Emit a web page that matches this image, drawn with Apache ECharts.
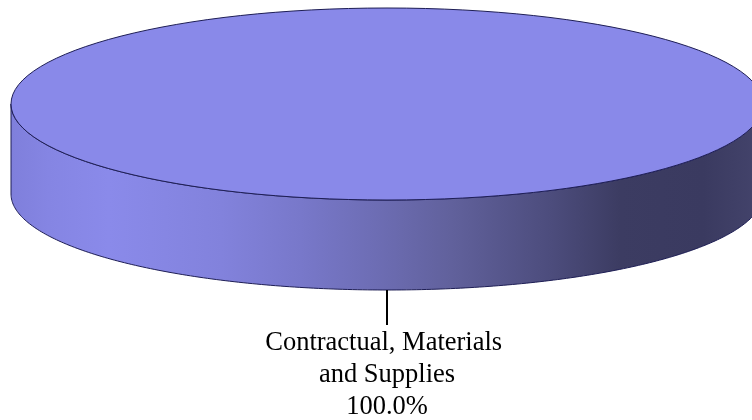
<!DOCTYPE html>
<html>
<head>
<meta charset="utf-8">
<script src="https://cdn.jsdelivr.net/npm/echarts@6/dist/echarts.min.js"></script>
<style>
  html, body { margin: 0; padding: 0; background: #ffffff; }
  #chart { width: 752px; height: 420px; }
</style>
</head>
<body>
<div id="chart"></div>
<script>
// ---- data ----
const categories = ['Contractual, Materials and Supplies'];
const values = [100];
const sliceColors = ['#8989e9'];

// ---- geometry / style (not data) ----
const CX = 387, CY = 104, RX = 376, RY = 96, DEPTH = 90;
const OUTLINE = '#1e1e55';
const total = values.reduce((a, b) => a + b, 0);

function pt(a, dy) {
  return [CX + RX * Math.cos(a), CY + dy + RY * Math.sin(a)];
}
function arc(a0, a1, dy, n) {
  const pts = [];
  for (let k = 0; k <= n; k++) {
    const a = a0 + (a1 - a0) * k / n;
    pts.push(pt(a, dy));
  }
  return pts;
}

const sideGradient = new echarts.graphic.LinearGradient(CX - RX, 0, CX + RX, 0, [
  { offset: 0.0, color: '#7f7fdb' },
  { offset: 0.05, color: '#8585e3' },
  { offset: 0.13, color: '#8a8aea' },
  { offset: 0.28, color: '#8282dc' },
  { offset: 0.385, color: '#7878ca' },
  { offset: 0.485, color: '#6d6db4' },
  { offset: 0.585, color: '#61619c' },
  { offset: 0.72, color: '#4c4c7c' },
  { offset: 0.81, color: '#3c3c62' },
  { offset: 0.92, color: '#3a3a60' },
  { offset: 1.0, color: '#44446c' }
], true);

const chart = echarts.init(document.getElementById('chart'), null, { renderer: 'canvas' });

chart.setOption({
  backgroundColor: '#ffffff',
  animation: false,
  series: [{
    type: 'custom',
    coordinateSystem: 'none',
    data: values.map((v, i) => ({ name: categories[i], value: v })),
    renderItem: function (params, api) {
      const i = params.dataIndex;
      let cum = 0;
      for (let k = 0; k < i; k++) cum += values[k];
      const frac = values[i] / total;
      const a0 = -Math.PI / 2 + 2 * Math.PI * cum / total;
      const a1 = a0 + 2 * Math.PI * frac;
      const full = frac >= 0.9999;
      const children = [];

      // side (front visible part: angles in [0, PI])
      let s0, s1;
      if (full) { s0 = 0; s1 = Math.PI; }
      else {
        let b0 = ((a0 % (2 * Math.PI)) + 2 * Math.PI) % (2 * Math.PI);
        let b1 = b0 + (a1 - a0);
        s0 = Math.max(b0, 0); s1 = Math.min(b1, Math.PI);
      }
      if (s1 > s0) {
        const topArc = arc(s0, s1, 0, 240);
        const botArc = arc(s1, s0, DEPTH, 240);
        children.push({
          type: 'polygon',
          shape: { points: topArc.concat(botArc) },
          style: { fill: sideGradient, stroke: OUTLINE, lineWidth: 1 }
        });
      }

      // top face
      if (full) {
        children.push({
          type: 'ellipse',
          shape: { cx: CX, cy: CY, rx: RX, ry: RY },
          style: { fill: sliceColors[i % sliceColors.length], stroke: OUTLINE, lineWidth: 1 }
        });
      } else {
        children.push({
          type: 'polygon',
          shape: { points: [[CX, CY]].concat(arc(a0, a1, 0, 240)) },
          style: { fill: sliceColors[i % sliceColors.length], stroke: OUTLINE, lineWidth: 1 }
        });
      }

      // leader line and label
      const mid = (a0 + a1) / 2;
      const p = pt(mid, DEPTH);
      const L = 35;
      const q = [p[0] + L * Math.cos(mid), p[1] + L * Math.sin(mid)];
      children.push({
        type: 'line',
        shape: { x1: p[0], y1: p[1], x2: q[0], y2: q[1] },
        style: { stroke: '#000000', lineWidth: 2 }
      });
      const pct = (frac * 100).toFixed(1) + '%';
      children.push({
        type: 'text',
        style: {
          x: q[0],
          y: q[1] + 2,
          text: categories[i] + '\n' + pct,
          fill: '#000000',
          fontFamily: '"Liberation Serif", "Times New Roman", serif',
          fontSize: 26.5,
          lineHeight: 32,
          align: 'center',
          verticalAlign: 'top',
          width: 255,
          overflow: 'break'
        }
      });

      return { type: 'group', children: children };
    }
  }]
});
</script>
</body>
</html>
